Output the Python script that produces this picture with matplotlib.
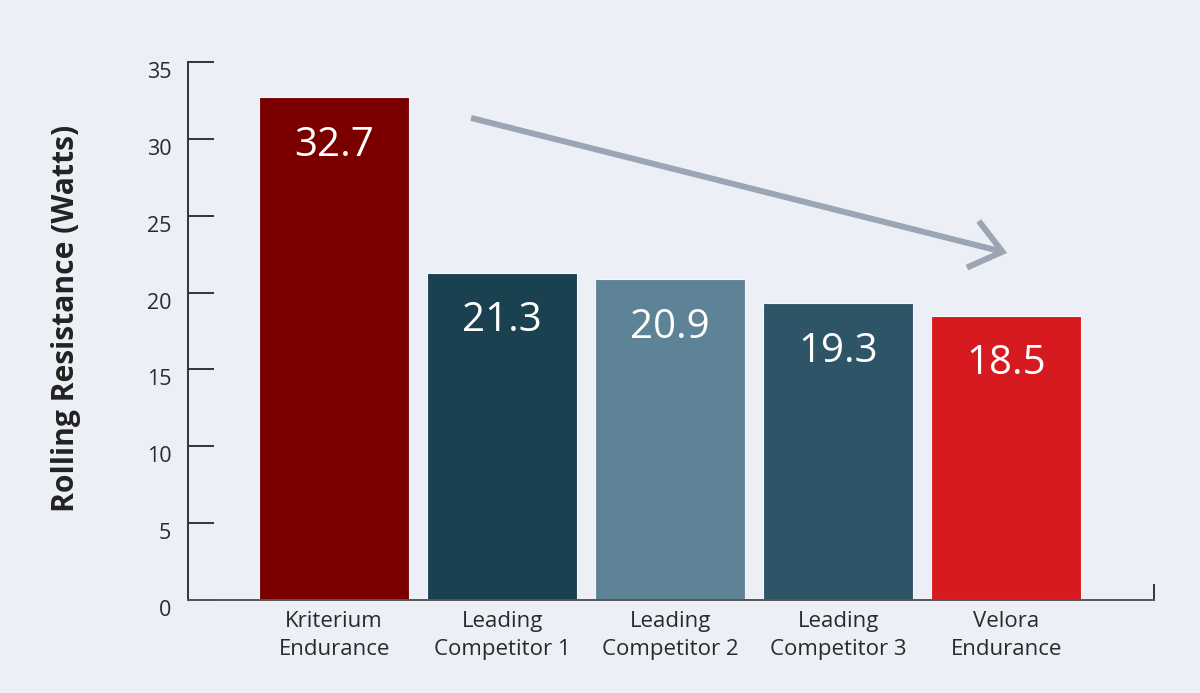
import matplotlib
matplotlib.use("Agg")
import matplotlib.pyplot as plt

categories = ["Kriterium\nEndurance", "Leading\nCompetitor 1", "Leading\nCompetitor 2",
              "Leading\nCompetitor 3", "Velora\nEndurance"]
values = [32.7, 21.3, 20.9, 19.3, 18.5]
colors = ["#7A0000", "#1A4150", "#5F8396", "#2E5567", "#D71920"]
yticks = [0, 5, 10, 15, 20, 25, 30, 35]

plt.rcParams['font.family'] = ['Open Sans', 'DejaVu Sans']
bg = "#ECEFF6"

fig = plt.figure(figsize=(12, 6.93), dpi=100, facecolor=bg)
ax = fig.add_axes([188/1200, 1-600/693, (1154-188)/1200, (600-62)/693])
ax.set_facecolor(bg)

x = list(range(len(values)))
bars = ax.bar(x, values, width=0.89, color=colors, edgecolor="#F4F6FA", linewidth=0.8, zorder=2)

for xi, v in zip(x, values):
    ax.annotate(f"{v:.1f}", xy=(xi, v), xytext=(0, -35), textcoords="offset points",
                ha="center", va="center", color="white", fontsize=29, zorder=3)

ax.set_xlim(-0.87, 4.88)
ax.set_ylim(0, 35)
ax.set_yticks(yticks)
ax.set_yticklabels([str(t) for t in yticks])
for lab in ax.get_yticklabels():
    lab.set_va("top")
ax.tick_params(axis="y", direction="in", length=18.7, width=1.4, color="#333333",
               labelsize=15.5, labelcolor="#2a2a2a", pad=12)
ax.set_xticks(x)
ax.set_xticklabels(categories, fontsize=16, color="#2a2a2a", linespacing=1.45)
ax.tick_params(axis="x", length=0, pad=8)

for s in ["top", "right"]:
    ax.spines[s].set_visible(False)
ax.spines["left"].set_color("#333333")
ax.spines["left"].set_linewidth(1.4)
ax.spines["bottom"].set_color("#555555")
ax.spines["bottom"].set_linewidth(1.4)
ax.plot([1, 1], [0, 0.027], transform=ax.transAxes, color="#333333", lw=1.4, clip_on=False)

ax.set_ylabel("Rolling Resistance (Watts)", fontsize=21.6, fontweight="bold", color="#222222", labelpad=47)
ax.yaxis.label.set_y(0.5 + 13/538)

ax.annotate("", xy=(4.006, 22.58), xytext=(0.815, 31.36), xycoords="data",
            arrowprops=dict(arrowstyle="->,head_length=2.2,head_width=1.73", mutation_scale=10,
                            color="#9BA5B4", lw=4.3, shrinkA=0, shrinkB=0,
                            capstyle="butt", joinstyle="miter"), zorder=4)

fig.savefig("out.png", dpi=100, facecolor=bg)
